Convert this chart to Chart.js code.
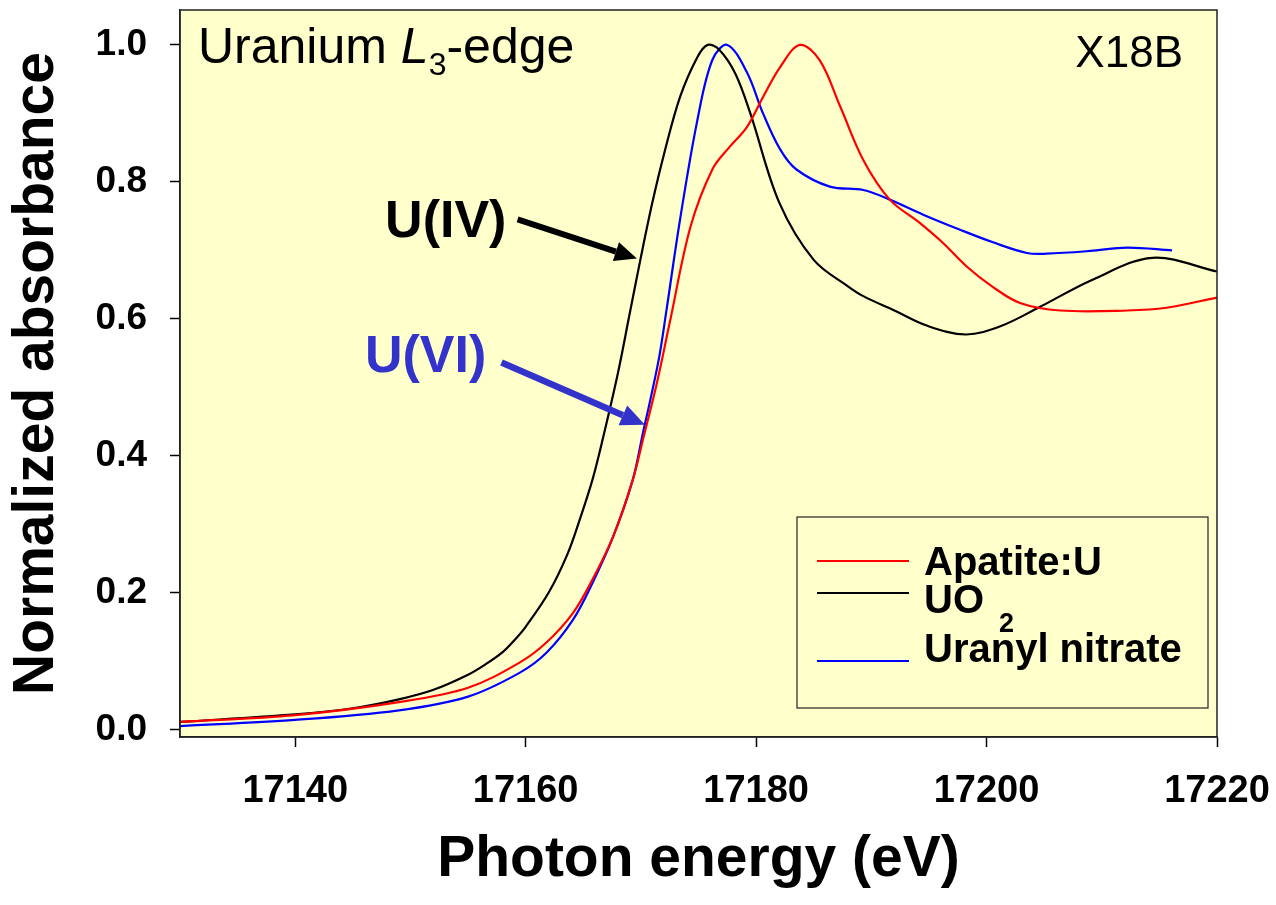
<!DOCTYPE html>
<html>
<head>
<meta charset="utf-8">
<script src="https://cdn.jsdelivr.net/npm/chart.js@4.4.1/dist/chart.umd.min.js"></script>
<style>
  html, body { margin: 0; padding: 0; background: #fff; }
  #wrap { width: 1276px; height: 905px; }
</style>
</head>
<body>
<div id="wrap"><canvas id="xanesChart" width="1276" height="905"></canvas></div>
<script>
// U L3-edge XANES
const apatiteEnergy = [17130, 17140, 17149, 17155, 17159.5, 17161.8, 17164.1, 17165.8, 17167.6, 17169.3, 17170.2, 17171.4, 17172.5, 17174.3, 17176.2, 17177.7, 17179.2, 17180.6, 17182.1, 17183.8, 17185.5, 17187.3, 17189.3, 17191.6, 17194.2, 17196.2, 17198.3, 17200.5, 17202.9, 17206.4, 17212.2, 17215.6, 17220];
const apatiteAbs = [0.011, 0.021, 0.04, 0.061, 0.098, 0.127, 0.17, 0.219, 0.282, 0.365, 0.425, 0.507, 0.594, 0.734, 0.818, 0.851, 0.88, 0.924, 0.968, 1.0, 0.978, 0.91, 0.832, 0.774, 0.74, 0.711, 0.676, 0.647, 0.623, 0.612, 0.612, 0.616, 0.631];

const uo2Energy = [17130, 17140, 17145, 17149, 17152, 17155, 17156.5, 17158, 17159, 17160, 17162, 17163.6, 17164.7, 17165.8, 17166.7, 17168, 17169, 17170, 17171, 17172, 17173.4, 17174.9, 17175.8, 17176.8, 17178.2, 17179.5, 17182, 17185, 17188, 17189.3, 17192, 17194.8, 17198.2, 17201.2, 17204.6, 17209.2, 17214.4, 17220];
const uo2Abs = [0.011, 0.022, 0.031, 0.044, 0.058, 0.08, 0.095, 0.113, 0.13, 0.15, 0.2, 0.255, 0.307, 0.365, 0.425, 0.52, 0.605, 0.69, 0.77, 0.84, 0.924, 0.982, 1.0, 0.993, 0.958, 0.9, 0.77, 0.686, 0.647, 0.633, 0.612, 0.59, 0.577, 0.589, 0.617, 0.657, 0.689, 0.669];

const nitrateEnergy = [17130, 17140, 17149, 17155, 17159.5, 17161.8, 17164.1, 17165.8, 17167.6, 17169.3, 17170.2, 17170.8, 17171.6, 17172.2, 17173.4, 17174.9, 17176.2, 17177.5, 17179.2, 17180.6, 17182.1, 17183.5, 17186.4, 17189.3, 17191.6, 17194.5, 17197.7, 17200.5, 17203.5, 17205.2, 17209, 17212.2, 17216.1];
const nitrateAbs = [0.005, 0.014, 0.028, 0.048, 0.083, 0.112, 0.16, 0.214, 0.282, 0.365, 0.435, 0.48, 0.545, 0.61, 0.745, 0.89, 0.978, 1.0, 0.96, 0.9, 0.847, 0.818, 0.793, 0.788, 0.774, 0.752, 0.73, 0.712, 0.696, 0.695, 0.699, 0.704, 0.7];

const xTicks = [17140, 17160, 17180, 17200, 17220];
const yTicks = [0, 0.2, 0.4, 0.6, 0.8, 1.0];

const FONT = "'Liberation Sans', Arial, sans-serif";

function toPoints(xs, ys) {
  return xs.map((x, i) => ({ x: x, y: ys[i] }));
}

function arrow(ctx, x1, y1, x2, y2, color, w, head) {
  const ang = Math.atan2(y2 - y1, x2 - x1);
  const bx = x2 - head * Math.cos(ang);
  const by = y2 - head * Math.sin(ang);
  const hw = head * 0.45;
  ctx.strokeStyle = color;
  ctx.lineWidth = w;
  ctx.beginPath();
  ctx.moveTo(x1, y1);
  ctx.lineTo(bx, by);
  ctx.stroke();
  ctx.fillStyle = color;
  ctx.beginPath();
  ctx.moveTo(x2, y2);
  ctx.lineTo(bx + hw * Math.sin(ang), by - hw * Math.cos(ang));
  ctx.lineTo(bx - hw * Math.sin(ang), by + hw * Math.cos(ang));
  ctx.closePath();
  ctx.fill();
}

const framePlugin = {
  id: 'frame',
  beforeDraw(chart) {
    const { ctx, chartArea: a } = chart;
    ctx.save();
    ctx.fillStyle = '#ffffcc';
    ctx.fillRect(a.left, a.top, a.right - a.left, a.bottom - a.top);
    ctx.restore();
  },
  afterDraw(chart) {
    const { ctx, chartArea: a } = chart;
    const xs = chart.scales.x, ys = chart.scales.y;
    ctx.save();
    ctx.strokeStyle = '#222';
    ctx.lineWidth = 1.5;
    ctx.strokeRect(a.left, a.top, a.right - a.left, a.bottom - a.top);

    // title text inside the plot
    ctx.fillStyle = '#000';
    ctx.textBaseline = 'alphabetic';
    ctx.textAlign = 'left';
    let tx = a.left + 18;
    const ty = a.top + 53;
    ctx.font = '50px ' + FONT;
    ctx.fillText('Uranium ', tx, ty);
    tx += ctx.measureText('Uranium ').width;
    ctx.font = 'italic 50px ' + FONT;
    ctx.fillText('L', tx, ty);
    tx += ctx.measureText('L').width;
    ctx.font = '32px ' + FONT;
    ctx.fillText('3', tx, ty + 12);
    tx += ctx.measureText('3').width;
    ctx.font = '50px ' + FONT;
    ctx.fillText('-edge', tx, ty);

    ctx.font = '44px ' + FONT;
    ctx.textAlign = 'right';
    ctx.fillText('X18B', a.right - 34, a.top + 57);

    // oxidation state labels with arrows
    ctx.textAlign = 'left';
    ctx.font = 'bold 52px ' + FONT;
    ctx.fillStyle = '#000';
    ctx.fillText('U(IV)', xs.getPixelForValue(17147.8), ys.getPixelForValue(0.72));
    arrow(ctx, xs.getPixelForValue(17159.3), ys.getPixelForValue(0.745),
      xs.getPixelForValue(17169.65), ys.getPixelForValue(0.688), '#000', 6, 22);
    ctx.fillStyle = '#3333cc';
    ctx.fillText('U(VI)', xs.getPixelForValue(17146.05), ys.getPixelForValue(0.5226));
    arrow(ctx, xs.getPixelForValue(17157.9), ys.getPixelForValue(0.536),
      xs.getPixelForValue(17170.35), ys.getPixelForValue(0.445), '#3333cc', 6.5, 24);

    // legend box
    const L = a.right - 9 - 411, T = a.bottom - 29 - 191;
    ctx.fillStyle = '#ffffcc';
    ctx.fillRect(L, T, 411, 191);
    ctx.strokeStyle = '#222';
    ctx.lineWidth = 1.2;
    ctx.strokeRect(L, T, 411, 191);
    const lineY = [44, 76, 144];
    const textY = [58, 96, 145];
    chart.data.datasets.forEach((ds, i) => {
      ctx.strokeStyle = ds.borderColor;
      ctx.lineWidth = 2;
      ctx.beginPath();
      ctx.moveTo(L + 20, T + lineY[i]);
      ctx.lineTo(L + 112, T + lineY[i]);
      ctx.stroke();
      ctx.fillStyle = '#000';
      ctx.font = 'bold 40px ' + FONT;
      const m = ds.label.match(/^(.*?[A-Za-z])(\d)$/);
      if (m) {
        ctx.fillText(m[1], L + 127, T + textY[i]);
        const w = ctx.measureText(m[1] + ' ').width;
        ctx.font = 'bold 27px ' + FONT;
        ctx.fillText(m[2], L + 127 + w + 4, T + textY[i] + 19);
      } else {
        ctx.fillText(ds.label, L + 127, T + textY[i]);
      }
    });
    ctx.restore();
  }
};

const ctx = document.getElementById('xanesChart').getContext('2d');
const xanesChart = new Chart(ctx, {
  type: 'line',
  data: {
    datasets: [
      { label: 'Apatite:U', data: toPoints(apatiteEnergy, apatiteAbs), borderColor: '#ff0000' },
      { label: 'UO2', data: toPoints(uo2Energy, uo2Abs), borderColor: '#000000' },
      { label: 'Uranyl nitrate', data: toPoints(nitrateEnergy, nitrateAbs), borderColor: '#0000ff' }
    ]
  },
  options: {
    responsive: false,
    animation: false,
    devicePixelRatio: 1,
    events: [],
    layout: { padding: { left: 0, top: 10, right: 59, bottom: 0 } },
    elements: {
      point: { radius: 0 },
      line: { borderWidth: 2.2, tension: 0.35, fill: false }
    },
    plugins: {
      legend: { display: false },
      tooltip: { enabled: false }
    },
    scales: {
      x: {
        type: 'linear',
        min: 17130,
        max: 17220,
        afterBuildTicks: scale => { scale.ticks = xTicks.map(v => ({ value: v })); },
        afterFit: scale => {
          scale.height = 168;
          scale.paddingLeft = 0;
          scale.paddingRight = 0;
        },
        grid: { drawOnChartArea: false, drawTicks: true, tickLength: 10, tickColor: '#000', tickWidth: 1.5 },
        border: { display: true, color: '#222', width: 1.5 },
        ticks: {
          color: '#000',
          padding: 22,
          maxRotation: 0,
          font: { family: FONT, size: 38, weight: 'bold' },
          callback: v => String(v)
        },
        title: {
          display: true,
          text: 'Photon energy (eV)',
          color: '#000',
          font: { family: FONT, size: 57, weight: 'bold' },
          padding: { top: 0, bottom: 11 }
        }
      },
      y: {
        type: 'linear',
        min: -0.011,
        max: 1.051,
        afterBuildTicks: scale => { scale.ticks = yTicks.map(v => ({ value: v })); },
        afterFit: scale => {
          scale.width = 180;
          scale.paddingTop = 0;
          scale.paddingBottom = 0;
        },
        grid: { drawOnChartArea: false, drawTicks: true, tickLength: 10, tickColor: '#000', tickWidth: 1.5 },
        border: { display: true, color: '#222', width: 1.5 },
        ticks: {
          color: '#000',
          padding: 23,
          font: { family: FONT, size: 37, weight: 'bold' },
          callback: v => v.toFixed(1)
        },
        title: {
          display: true,
          text: 'Normalized absorbance',
          color: '#000',
          font: { family: FONT, size: 57, weight: 'bold' },
          padding: { top: 3, bottom: 0 }
        }
      }
    }
  },
  plugins: [framePlugin]
});
</script>
</body>
</html>
